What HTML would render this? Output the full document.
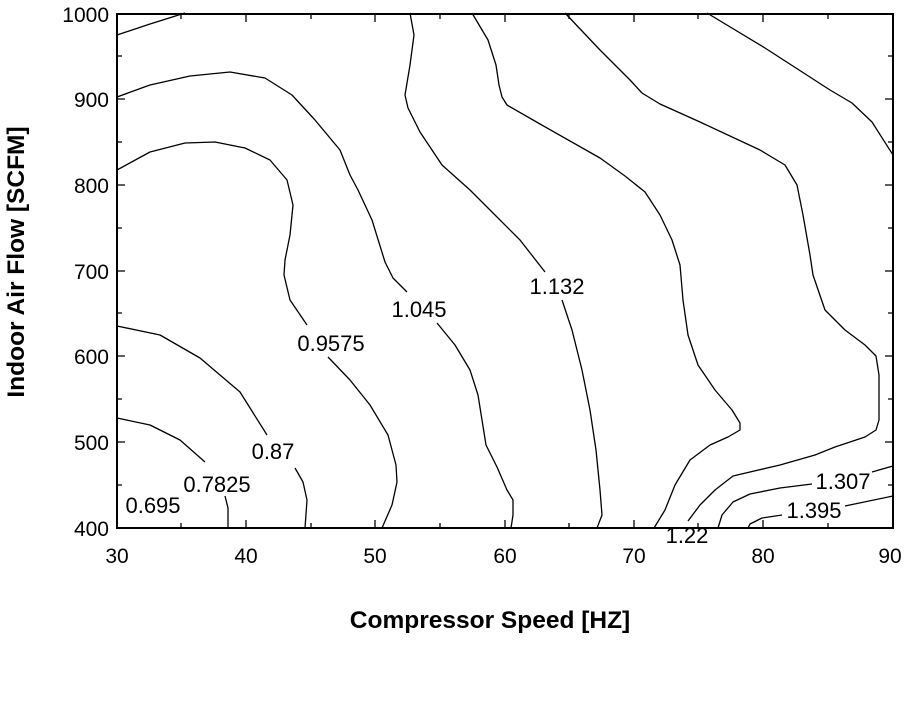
<!DOCTYPE html>
<html><head><style>body{margin:0;background:#fff}svg{display:block}</style></head><body>
<svg width="906" height="708" xmlns="http://www.w3.org/2000/svg" font-family="Liberation Sans, sans-serif">
<g fill="none" stroke="#000" stroke-width="1.3" stroke-linejoin="round">
<polyline points="117,35 150,24 185,13"/>
<polyline points="117,418 150,425 180,440 205,462"/>
<polyline points="225,496 228,508 228,528"/>
<polyline points="117,326 160,335 200,358 240,392 267,435"/>
<polyline points="295,468 303,482 307,500 305,528"/>
<polyline points="117,170 150,152 185,143 215,142 245,148 270,160 287,180 293,205 290,235 285,260 284,275 290,300 307,325"/>
<polyline points="328,357 350,380 370,405 388,435 396,465 397,482 392,505 382,528"/>
<polyline points="117,97 150,85 190,76 230,72 265,78 292,95 315,120 340,150 350,175 358,190 372,220 385,262 393,278 407,292"/>
<polyline points="437,323 455,345 470,370 478,395 482,420 486,445 497,467 507,490 513,500 513,515 511,528"/>
<polyline points="410,13 414,35 410,65 405,95 408,108 420,132 442,165 470,190 495,215 520,240 545,272"/>
<polyline points="562,300 572,330 582,370 590,410 596,450 600,490 602,515 597,528"/>
<polyline points="472,13 488,40 496,65 499,85 502,97 507,105 540,124 600,158 625,176 645,192 660,215 672,240 680,265 683,300 688,335 698,365 715,390 732,410 740,423 740,430 728,437 710,445 690,460 675,485 665,510 654,528"/>
<polyline points="565,13 600,50 630,80 642,93 660,104 700,122 760,150 785,165 797,185 803,215 810,255 813,275 825,310 845,330 865,345 876,356 879,375 879,420 876,430 865,437 835,447 815,455 780,465 750,472 733,476 715,490 700,505 688,521"/>
<polyline points="893,466 872,472"/>
<polyline points="812,484 780,488 750,494 733,502 722,515 718,528"/>
<polyline points="893,496 845,506"/>
<polyline points="782,515 762,518 750,524 748,528"/>
<polyline points="707,13 765,48 830,90 852,103 872,122 893,155"/>
</g>
<rect x="117" y="14" width="776" height="514" fill="none" stroke="#000" stroke-width="2"/>
<g stroke="#000" stroke-width="1.3">
<path d="M246,528v-8M375,528v-8M505,528v-8M634,528v-8M763,528v-8M181,528v-5M311,528v-5M440,528v-5M569,528v-5M698,528v-5M828,528v-5M246,14v8M375,14v8M505,14v8M634,14v8M763,14v8M181,14v5M311,14v5M440,14v5M569,14v5M698,14v5M828,14v5"/>
<path d="M117,99h8M117,185h8M117,271h8M117,356h8M117,442h8M117,56h5M117,142h5M117,228h5M117,313h5M117,399h5M117,485h5M893,99h-8M893,185h-8M893,271h-8M893,356h-8M893,442h-8M893,56h-5M893,142h-5M893,228h-5M893,313h-5M893,399h-5M893,485h-5"/>
</g>
<g font-size="21" fill="#000" text-anchor="end">
<text x="109" y="22">1000</text><text x="109" y="107">900</text><text x="109" y="193">800</text><text x="109" y="279">700</text><text x="109" y="364">600</text><text x="109" y="450">500</text><text x="109" y="536">400</text>
</g>
<g font-size="21" fill="#000" text-anchor="middle">
<text x="117" y="563">30</text><text x="246" y="563">40</text><text x="375" y="563">50</text><text x="505" y="563">60</text><text x="634" y="563">70</text><text x="763" y="563">80</text><text x="890" y="563">90</text>
</g>
<g font-size="22" fill="#000" text-anchor="middle">
<text x="153" y="513">0.695</text>
<text x="217" y="492">0.7825</text>
<text x="273" y="459">0.87</text>
<text x="331" y="351">0.9575</text>
<text x="419" y="317">1.045</text>
<text x="557" y="294">1.132</text>
<text x="687" y="543">1.22</text>
<text x="843" y="489">1.307</text>
<text x="814" y="518">1.395</text>
</g>
<text x="490" y="628" font-size="24.5" font-weight="bold" text-anchor="middle">Compressor Speed [HZ]</text>
<text transform="translate(24,262) rotate(-90)" font-size="24.5" font-weight="bold" text-anchor="middle">Indoor Air Flow [SCFM]</text>
</svg>
</body></html>
